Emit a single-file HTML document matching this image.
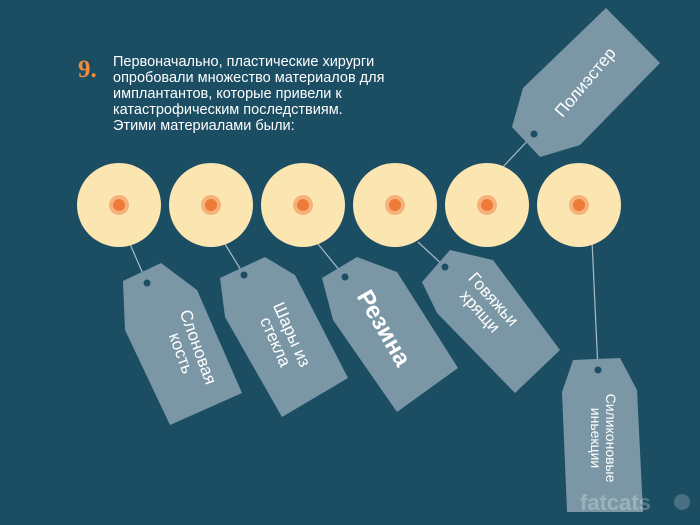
<!DOCTYPE html>
<html><head><meta charset="utf-8"><style>
body{margin:0;background:#1b4d63;}
svg{display:block}
</style></head><body>
<svg width="700" height="525" viewBox="0 0 700 525" xmlns="http://www.w3.org/2000/svg">
<rect width="700" height="525" fill="#1b4d63"/>
<text x="78" y="77" font-family="Liberation Serif, serif" font-weight="bold" font-size="25" fill="#f08a3c">9.</text>
<g font-family="Liberation Sans, sans-serif" font-size="14.5" fill="#ffffff">
<text x="113" y="66">Первоначально, пластические хирурги</text>
<text x="113" y="82">опробовали множество материалов для</text>
<text x="113" y="98">имплантантов, которые привели к</text>
<text x="113" y="114">катастрофическим последствиям.</text>
<text x="113" y="130">Этими материалами были:</text>
</g>
<g stroke="#a9bcc6" stroke-width="1.2">
<line x1="147" y1="283" x2="130" y2="244"/>
<line x1="244" y1="275" x2="225" y2="244"/>
<line x1="345" y1="277" x2="318" y2="244"/>
<line x1="445" y1="267" x2="418" y2="242"/>
<line x1="534" y1="134" x2="500" y2="170"/>
<line x1="598" y1="370" x2="592" y2="240"/>
</g>
<g fill="#fbe5b0">
<circle cx="119" cy="205" r="42"/>
<circle cx="211" cy="205" r="42"/>
<circle cx="303" cy="205" r="42"/>
<circle cx="395" cy="205" r="42"/>
<circle cx="487" cy="205" r="42"/>
<circle cx="579" cy="205" r="42"/>
</g>
<g fill="#f7b27c">
<circle cx="119" cy="205" r="10"/><circle cx="211" cy="205" r="10"/><circle cx="303" cy="205" r="10"/><circle cx="395" cy="205" r="10"/><circle cx="487" cy="205" r="10"/><circle cx="579" cy="205" r="10"/>
</g>
<g fill="#ee7a38">
<circle cx="119" cy="205" r="6"/><circle cx="211" cy="205" r="6"/><circle cx="303" cy="205" r="6"/><circle cx="395" cy="205" r="6"/><circle cx="487" cy="205" r="6"/><circle cx="579" cy="205" r="6"/>
</g>
<g fill="#7b97a5">
<polygon points="123,281 161,263 197,290 242,393 170,425 125,330"/>
<polygon points="220,278 265,257 295,275 348,378 282,417 225,317"/>
<polygon points="322,278 357,257 397,272 458,368 397,412 333,320"/>
<polygon points="422,282 450,250 493,260 560,350 515,393 437,313"/>
<polygon points="512,127 523,88 606,8 660,63 580,145 540,157"/>
<polygon points="562,392 573,360 620,358 637,390 643,512 567,512"/>
</g>
<g fill="#1b4d63">
<circle cx="147" cy="283" r="3.5"/><circle cx="244" cy="275" r="3.5"/><circle cx="345" cy="277" r="3.5"/><circle cx="445" cy="267" r="3.5"/><circle cx="534" cy="134" r="3.5"/><circle cx="598" cy="370" r="3.5"/>
</g>
<g font-family="Liberation Sans, sans-serif" fill="#ffffff" text-anchor="middle">
<g transform="translate(190,350) rotate(70)" font-size="17"><text x="0" y="-3">Слоновая</text><text x="0" y="15">кость</text></g>
<g transform="translate(284,338) rotate(66)" font-size="17"><text x="0" y="-3">Шары из</text><text x="0" y="15">стекла</text></g>
<g transform="translate(384,328) rotate(60)" font-size="24" font-weight="bold"><text x="0" y="8">Резина</text></g>
<g transform="translate(487,305) rotate(48)" font-size="17"><text x="0" y="-3">Говяжьи</text><text x="0" y="15">хрящи</text></g>
<g transform="translate(585,82) rotate(-50)" font-size="17"><text x="0" y="6">Полиэстер</text></g>
<g transform="translate(603,438) rotate(90)" font-size="14"><text x="0" y="-3">Силиконовые</text><text x="0" y="12">иньекции</text></g>
</g>
<text x="580" y="510" font-family="Liberation Sans, sans-serif" font-weight="bold" font-size="22" fill="#ffffff" fill-opacity="0.25">fatcats</text>
<circle cx="682" cy="502" r="8" fill="#ffffff" fill-opacity="0.2"/>
</svg>
</body></html>
